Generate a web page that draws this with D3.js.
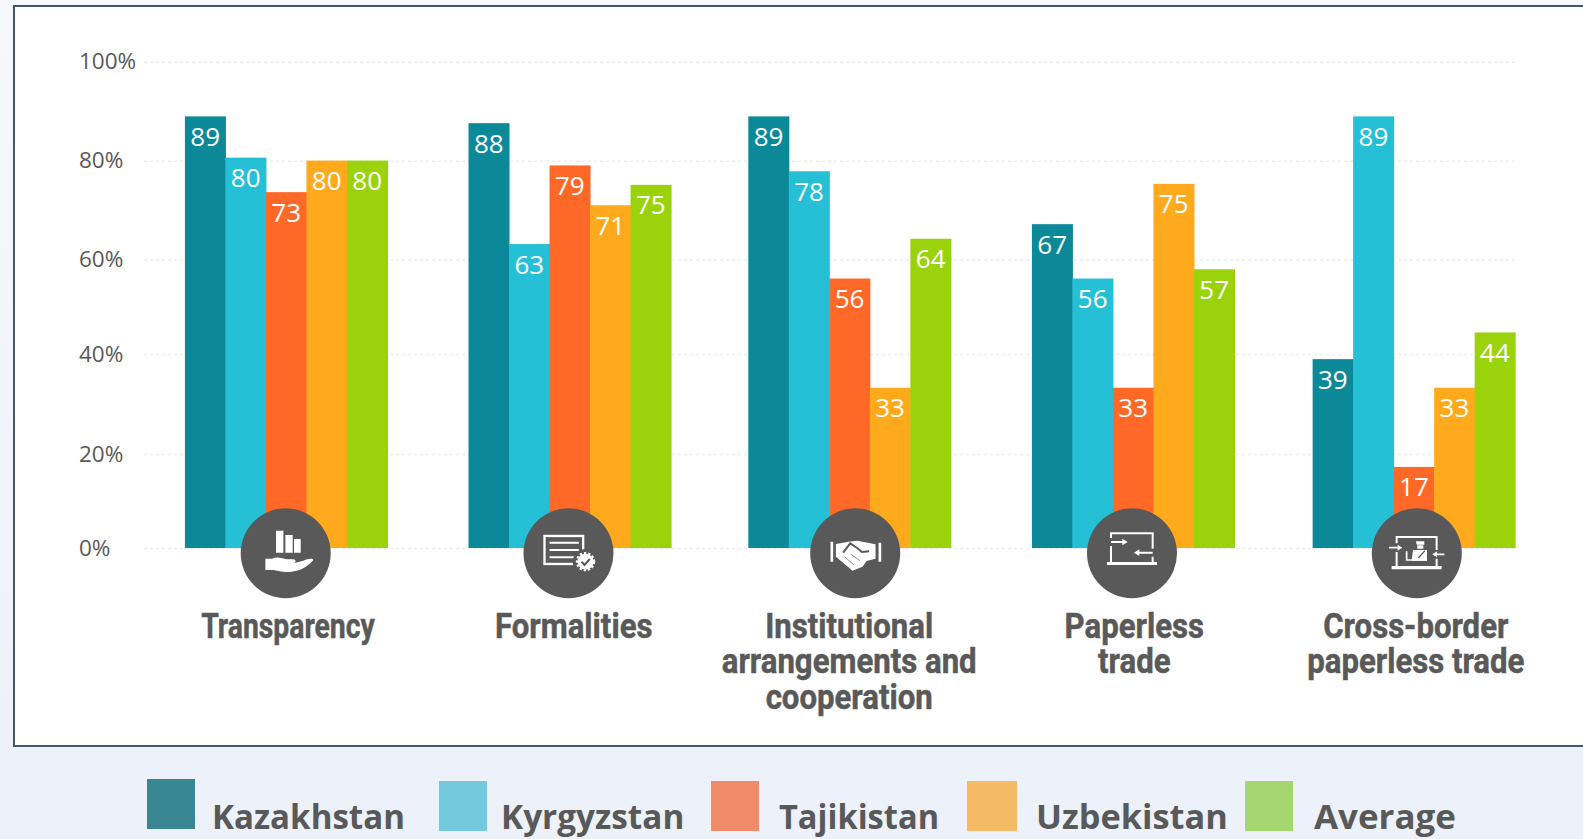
<!DOCTYPE html>
<html>
<head>
<meta charset="utf-8">
<script src="https://cdn.jsdelivr.net/npm/d3@7/dist/d3.min.js"></script>
<style>
  html, body { margin: 0; padding: 0; overflow: hidden; background: linear-gradient(#f6f8fe, #ecf1fa 90%); }
  svg { display: block; }
</style>
</head>
<body>
<script>
const categories = ["Transparency", "Formalities", "Institutional arrangements and cooperation", "Paperless trade", "Cross-border paperless trade"];
const categoryLines = [
        ["Transparency"],
        ["Formalities"],
        ["Institutional", "arrangements and", "cooperation"],
        ["Paperless", "trade"],
        ["Cross-border", "paperless trade"]
];
const seriesNames = ["Kazakhstan", "Kyrgyzstan", "Tajikistan", "Uzbekistan", "Average"];

const kazakhstan = [88.9, 87.5, 88.9, 66.7, 38.9];
const kyrgyzstan = [80.4, 62.6, 77.6, 55.5, 88.9];
const tajikistan = [73.3, 78.8, 55.5, 33.0, 16.7];
const uzbekistan = [79.8, 70.6, 33.0, 75, 33.0];
const average = [79.8, 74.8, 63.7, 57.4, 44.4];
const seriesValues = [kazakhstan, kyrgyzstan, tajikistan, uzbekistan, average];

const yTicks = [0, 20, 40, 60, 80, 100];

const barColors = ["#0b8999", "#25c0d6", "#ff6928", "#ffaa1c", "#9ad20c"];
const legendColors = ["#3a8794", "#74c9dc", "#ef8b68", "#f4ba66", "#a5d770"];
const grey = "#595959";

// ================== LAYOUT ===========================
const width = 1583;
const height = 839;

const svg = d3.select("body")
              .append("svg")
              .attr("width", width)
              .attr("height", height);

// white panel, open on the right side
svg.append("path")
   .attr("d", `M${width + 5},6 H14 V746 H${width + 5} Z`)
   .attr("fill", "#fff")
   .attr("stroke", "#46566f")
   .attr("stroke-width", 2);

const yScale = d3.scaleLinear().domain([0, 100]).range([548, 62.5]);
// the ticks of the source picture are not quite evenly spaced
const yAxisScale = d3.scaleLinear().domain(yTicks).range([548, 454, 354, 259.3, 160.7, 61.7]);

const x0 = d3.scaleBand().domain(categories).range([145.4, 1556.4]).paddingInner(0.28).paddingOuter(0.14);
const x1 = d3.scaleBand().domain(seriesNames).range([0, x0.bandwidth() - 0.6]);

// small hand placement differences of the source, per category
const groupNudge = [0, 1.4, -1, 0.4, -1.1];
const iconNudge = [-0.8, -0.2, 4.3, -1.1, 1.5];
const labelNudge = [1.5, 5, -1.7, 1.2, 0.5];
const labelStretch = [0.81, 0.89, 0.89, 0.89, 0.89];

// ============ y axis =================================
const yAxis = d3.axisLeft(yAxisScale)
                .tickValues(yTicks)
                .tickFormat(d => d + "%")
                .tickSize(-1373);

const axisG = svg.append("g").attr("transform", "translate(144,0)").call(yAxis);
axisG.select(".domain").remove();
axisG.selectAll("line")
     .attr("stroke", "#ececec")
     .attr("stroke-width", 1.5)
     .attr("stroke-dasharray", "3 3");
axisG.selectAll("text")
     .attr("x", -65)
     .attr("text-anchor", "start")
     .attr("fill", grey)
     .style("font-family", "'Open Sans'")
     .style("font-size", "22.5px");

// ============ bars =================================
const groups = svg.selectAll(".group")
                  .data(categories).enter()
                  .append("g")
                  .attr("class", "group")
                  .attr("transform", (d, i) => `translate(${x0(d) + groupNudge[i]},0)`);

seriesNames.forEach((name, s) => {
        groups.append("rect")
              .attr("x", x1(name))
              .attr("y", (d, i) => yScale(seriesValues[s][i]))
              .attr("width", x1.bandwidth() + 0.5)
              .attr("height", (d, i) => yScale(0) - yScale(seriesValues[s][i]))
              .attr("fill", barColors[s]);
        groups.append("text")
              .attr("x", x1(name) + x1.bandwidth() / 2)
              .attr("y", (d, i) => yScale(seriesValues[s][i]) + 29.5)
              .attr("text-anchor", "middle")
              .attr("fill", "#fff")
              .style("font-family", "'Open Sans'")
              .style("font-size", "26px")
              .text((d, i) => Math.round(seriesValues[s][i]));
});

// ============ icons =================================
// drawn in a 288 wide box, origin moved onto the circle centre
const iconOrigins = [[137, 130], [139, 130], [144, 130], [143, 130], [145.5, 130]];

function line(g, d, w) {
        return g.append("path").attr("d", d).attr("fill", "none").attr("stroke", "#fff").attr("stroke-width", w || 6);
}
function fill(g, d, c) {
        return g.append("path").attr("d", d).attr("fill", c || "#fff");
}

const iconDrawers = [
        g => {
                fill(g, "M108 62H130V128H108Z M136 75H158V128H136Z M162 87H182V128H162Z");
                fill(g, "M76 146H96C112 138 128 146 140 148H160C170 150 168 158 160 160L190 152C205 146 218 144 220 150C205 168 185 182 150 186C130 188 105 180 96 180H76Z");
        },
        g => {
                g.append("rect").attr("x", 67).attr("y", 78).attr("width", 116).attr("height", 84)
                 .attr("fill", "none").attr("stroke", "#fff").attr("stroke-width", 7);
                line(g, "M82 98H170 M82 120H170 M82 142H160", 6);
                g.append("circle").attr("cx", 190).attr("cy", 155).attr("r", 38).attr("fill", "#595959");
                g.append("circle").attr("cx", 190).attr("cy", 155).attr("r", 24).attr("fill", "#fff");
                g.append("circle").attr("cx", 190).attr("cy", 155).attr("r", 26).attr("fill", "none")
                 .attr("stroke", "#fff").attr("stroke-width", 6).attr("stroke-dasharray", "7 6");
                g.append("path").attr("d", "M178 155L187 165L203 147").attr("fill", "none")
                 .attr("stroke", "#595959").attr("stroke-width", 6);
        },
        g => {
                fill(g, "M70 95H78V155H70Z M214 98H222V155H214Z");
                fill(g, "M86 102L125 95L150 92L205 103V146L178 153L166 170L136 182L86 140Z");
                g.append("path").attr("d", "M108 128L129 100L150 114L164 126L186 124").attr("fill", "none")
                 .attr("stroke", "#595959").attr("stroke-width", 6);
                g.append("path").attr("d", "M112 140L140 165 M130 132L158 152").attr("fill", "none")
                 .attr("stroke", "#595959").attr("stroke-width", 2);
        },
        g => {
                line(g, "M80 84V70H205V116 M205 140V156 M80 108V156", 6);
                fill(g, "M68 156H218V165H68Z");
                line(g, "M80 96H118 M205 128H160", 6);
                fill(g, "M114 86L130 96L114 106Z M165 118L149 128L165 138Z");
        },
        g => {
                line(g, "M85 100V81H205V120 M205 146V168 M85 126V168", 6);
                fill(g, "M70 168H220V178H70Z");
                line(g, "M62 113H92 M228 133H202", 5);
                fill(g, "M88 104L102 113L88 122Z M206 124L192 133L206 142Z");
                fill(g, "M143 94H168V104H145Z M147 106H165V116H147Z M134 120H176V152H130Z");
                line(g, "M115 124V150H176", 5);
                g.append("path").attr("d", "M150 144L170 122").attr("stroke", "#595959").attr("stroke-width", 4);
        }
];

const icons = svg.selectAll(".icon")
                 .data(categories).enter()
                 .append("g")
                 .attr("class", "icon")
                 .attr("transform", (d, i) => `translate(${x0(d) + x0.bandwidth() / 2 + iconNudge[i]},553.3)`);

icons.append("circle").attr("r", 45).attr("fill", grey);
icons.each(function (d, i) {
        const inner = d3.select(this).append("g")
                        .attr("transform", `scale(${1 / 3}) translate(${-iconOrigins[i][0]},${-iconOrigins[i][1]})`);
        iconDrawers[i](inner);
});

// ============ category labels =================================
categories.forEach((c, i) => {
        const cx = x0(c) + x0.bandwidth() / 2 + labelNudge[i];
        categoryLines[i].forEach((txt, k) => {
                svg.append("text")
                   .attr("transform", `translate(${cx},${638 + k * 35.3}) scale(${labelStretch[i]},1)`)
                   .attr("text-anchor", "middle")
                   .attr("fill", grey)
                   .attr("stroke", grey)
                   .attr("stroke-width", 0.5)
                   .style("font-family", "Roboto")
                   .style("font-weight", 700)
                   .style("font-size", "35px")
                   .text(txt);
        });
});

// ============ legend =================================
const legendSwatch = [[147, 779, 48], [439, 781, 48], [711, 781, 48], [967, 781, 50], [1245, 781, 48]];
const legendTextX = [212, 501, 779, 1036, 1314];
const legendStretch = [0.974, 0.981, 0.959, 1.01, 1.027];

seriesNames.forEach((name, i) => {
        svg.append("rect")
           .attr("x", legendSwatch[i][0])
           .attr("y", legendSwatch[i][1])
           .attr("width", legendSwatch[i][2])
           .attr("height", 50)
           .attr("fill", legendColors[i]);
        svg.append("text")
           .attr("transform", `translate(${legendTextX[i]},829) scale(${legendStretch[i]},1)`)
           .attr("fill", grey)
           .style("font-family", "'Open Sans'")
           .style("font-weight", 700)
           .style("font-size", "34px")
           .text(name);
});
</script>
</body>
</html>
